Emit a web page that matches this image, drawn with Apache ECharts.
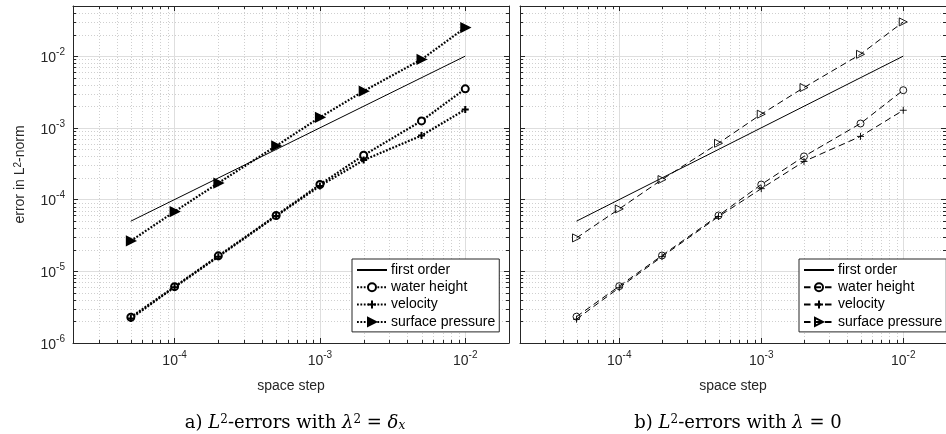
<!DOCTYPE html>
<html><head><meta charset="utf-8">
<script src="https://cdn.jsdelivr.net/npm/echarts@6/dist/echarts.min.js"></script>
<style>html,body{margin:0;padding:0;background:#fff}#c{width:946px;height:434px}</style>
</head><body><div id="c"></div>
<script>
// ---- data ----
const xSteps = [5e-5, 1e-4, 2e-4, 5e-4, 1e-3, 2e-3, 5e-3, 1e-2];
const firstOrderX = [5e-5, 1e-2];
const firstOrderY = [5e-5, 1e-2];
const aWater    = [2.29e-6, 6.1e-6, 1.64e-5, 6.0e-5, 1.62e-4, 4.15e-4, 1.25e-3, 3.5e-3];
const aVelocity = [2.2e-6, 6.0e-6, 1.6e-5, 5.9e-5, 1.55e-4, 3.55e-4, 7.8e-4, 1.8e-3];
const aPressure = [2.65e-5, 6.8e-5, 1.7e-4, 5.6e-4, 1.4e-3, 3.25e-3, 9.0e-3, 2.5e-2];
const bWater    = [2.33e-6, 6.2e-6, 1.66e-5, 6.0e-5, 1.62e-4, 4.0e-4, 1.15e-3, 3.35e-3];
const bVelocity = [2.15e-6, 5.9e-6, 1.6e-5, 5.8e-5, 1.42e-4, 3.4e-4, 7.6e-4, 1.76e-3];
const bPressure = [2.92e-5, 7.4e-5, 1.9e-4, 6.1e-4, 1.55e-3, 3.65e-3, 1.06e-2, 3.0e-2];
const seriesNames = ['first order', 'water height', 'velocity', 'surface pressure'];
const xRange = [2e-5, 2e-2];
const yRange = [1e-6, 5e-2];
const minorMantissas = [2, 3, 4, 5, 6, 7, 8, 9];
const xDecades = [1e-5, 1e-4, 1e-3, 1e-2];
const yDecades = [1e-6, 1e-5, 1e-4, 1e-3, 1e-2];

// ---- helpers ----
const AX = '#262626';
const SANS = 'Liberation Sans';
function minorValues(decades, range) {
  const out = [];
  decades.forEach(d => minorMantissas.forEach(m => {
    const v = m * d;
    if (v > range[0] * 1.0001 && v < range[1] * 0.9999) out.push(v);
  }));
  return out;
}
const xMinor = minorValues(xDecades, xRange);
const yMinor = minorValues(yDecades, yRange);
const zip = (xs, ys) => xs.map((x, i) => [x, ys[i]]);

function sciLabel(v) {
  const e = Math.log10(v), r = Math.round(e);
  if (Math.abs(e - r) > 1e-6) return '';
  return '{b|10}{s|' + r + '}';
}
const tickRich = {
  b: {fontSize: 14, fontFamily: SANS, color: AX, lineHeight: 18, verticalAlign: 'bottom'},
  s: {fontSize: 10, fontFamily: SANS, color: AX, lineHeight: 7, verticalAlign: 'top'}
};

function minorX(params, api) {
  const cs = params.coordSys;
  const x = Math.round(api.coord([api.value(0), 1e-3])[0]) + 0.5;
  return {type: 'group', children: [
    {type: 'line', shape: {x1: x, y1: cs.y, x2: x, y2: cs.y + cs.height}, style: {stroke: '#cfcfcf', lineWidth: 1, lineDash: [1, 2]}},
    {type: 'line', shape: {x1: x, y1: cs.y + cs.height, x2: x, y2: cs.y + cs.height - 3}, style: {stroke: AX, lineWidth: 1}},
    {type: 'line', shape: {x1: x, y1: cs.y, x2: x, y2: cs.y + 3}, style: {stroke: AX, lineWidth: 1}}
  ]};
}
function minorY(params, api) {
  const cs = params.coordSys;
  const y = Math.round(api.coord([1e-3, api.value(1)])[1]) + 0.5;
  return {type: 'group', children: [
    {type: 'line', shape: {x1: cs.x, y1: y, x2: cs.x + cs.width, y2: y}, style: {stroke: '#cfcfcf', lineWidth: 1, lineDash: [1, 2]}},
    {type: 'line', shape: {x1: cs.x, y1: y, x2: cs.x + 3, y2: y}, style: {stroke: AX, lineWidth: 1}},
    {type: 'line', shape: {x1: cs.x + cs.width, y1: y, x2: cs.x + cs.width - 3, y2: y}, style: {stroke: AX, lineWidth: 1}}
  ]};
}

function xAx(grid, pos, main) {
  return {
    gridIndex: grid, type: 'log', logBase: 10, min: xRange[0], max: xRange[1], position: pos,
    axisLine: {show: true, lineStyle: {color: AX, width: 1}},
    axisTick: {show: true, inside: true, length: 5, lineStyle: {color: AX}},
    axisLabel: main ? {show: true, formatter: sciLabel, rich: tickRich, margin: 7, showMinLabel: false, showMaxLabel: false, hideOverlap: false} : {show: false},
    splitLine: main ? {show: true, lineStyle: {color: '#dedede', width: 1}} : {show: false},
    minorTick: {show: false}, minorSplitLine: {show: false},
    name: main ? 'space step' : '', nameLocation: 'middle', nameGap: 36,
    nameTextStyle: {fontSize: 14, fontFamily: SANS, color: AX}
  };
}
function yAx(grid, pos, main, labels) {
  return {
    gridIndex: grid, type: 'log', logBase: 10, min: yRange[0], max: yRange[1], position: pos,
    axisLine: {show: true, lineStyle: {color: AX, width: 1}},
    axisTick: {show: true, inside: true, length: 5, lineStyle: {color: AX}},
    axisLabel: labels ? {show: true, formatter: sciLabel, rich: tickRich, margin: 8, showMinLabel: true, showMaxLabel: false, hideOverlap: false} : {show: false},
    splitLine: main ? {show: true, lineStyle: {color: '#dedede', width: 1}} : {show: false},
    minorTick: {show: false}, minorSplitLine: {show: false},
    name: labels ? 'error in L{s|2}-norm' : '', nameLocation: 'middle', nameGap: 46,
    nameTextStyle: {fontSize: 14, fontFamily: SANS, color: AX,
      rich: {s: {fontSize: 10, fontFamily: SANS, color: AX, lineHeight: 7, verticalAlign: 'top'}}}
  };
}

const dotLine = {color: '#000', width: 2.2, type: [1.8, 1.6]};
const dashLine = {color: '#000', width: 1, type: [6.5, 4]};
const plusPath = 'path://M0,5L10,5M5,0L5,10';

function panelSeries(gi, suffix, W, V, P, left) {
  const ls = left ? dotLine : dashLine;
  const bw = left ? 2 : 0.9;
  return [
    {name: seriesNames[0] + suffix, type: 'line', xAxisIndex: gi * 2, yAxisIndex: gi * 2,
     data: zip(firstOrderX, firstOrderY), symbol: 'none', lineStyle: {color: '#000', width: 1, type: 'solid'},
     itemStyle: {color: '#000'}, z: 3, silent: true, animation: false},
    {name: seriesNames[1] + suffix, type: 'line', xAxisIndex: gi * 2, yAxisIndex: gi * 2,
     data: zip(xSteps, W), symbol: 'circle', symbolSize: left ? 7 : 7,
     itemStyle: {color: left ? '#fff' : 'rgba(0,0,0,0)', borderColor: '#000', borderWidth: bw},
     lineStyle: ls, z: 4, silent: true, animation: false},
    {name: seriesNames[2] + suffix, type: 'line', xAxisIndex: gi * 2, yAxisIndex: gi * 2,
     data: zip(xSteps, V), symbol: plusPath, symbolSize: 7,
     itemStyle: {color: '#000', borderColor: '#000', borderWidth: left ? 2 : 0.9},
     lineStyle: ls, z: 4, silent: true, animation: false},
    {name: seriesNames[3] + suffix, type: 'line', xAxisIndex: gi * 2, yAxisIndex: gi * 2,
     data: zip(xSteps, P), symbol: 'triangle', symbolSize: left ? 8 : 8, symbolRotate: -90,
     itemStyle: {color: left ? '#000' : 'rgba(0,0,0,0)', borderColor: '#000', borderWidth: bw},
     lineStyle: ls, z: 4, silent: true, animation: false},
    {type: 'custom', xAxisIndex: gi * 2, yAxisIndex: gi * 2, data: xMinor.map(v => [v, 1e-3]),
     renderItem: minorX, z: 1, silent: true, animation: false},
    {type: 'custom', xAxisIndex: gi * 2, yAxisIndex: gi * 2, data: yMinor.map(v => [1e-3, v]),
     renderItem: minorY, z: 1, silent: true, animation: false}
  ];
}

function legendFor(suffix, left) {
  return {
    left: left, top: 259, orient: 'vertical', selectedMode: false,
    data: seriesNames.map((n, i) => i === 0 ? {name: n + suffix, itemStyle: {opacity: 0}} : {name: n + suffix}),
    formatter: n => n.replace(' (b)', ''),
    itemWidth: 30, itemHeight: 10, itemGap: 3.3,
    padding: [4, 4, 3, 4],
    backgroundColor: '#fff', borderColor: AX, borderWidth: 1, borderRadius: 0,
    textStyle: {fontSize: 14, fontFamily: SANS, color: '#000', padding: [0, 0, 0, -1]},
    z: 10
  };
}

const serifRich = {
  t: {fontSize: 18, fontFamily: 'DejaVu Serif', color: '#000'},
  i: {fontSize: 18, fontFamily: 'DejaVu Serif', fontStyle: 'italic', color: '#000'},
  sup: {fontSize: 12, fontFamily: 'DejaVu Serif', color: '#000', lineHeight: 8, verticalAlign: 'top'},
  sub: {fontSize: 12, fontFamily: 'DejaVu Serif', fontStyle: 'italic', color: '#000', lineHeight: 8, verticalAlign: 'bottom'}
};

const chart = echarts.init(document.getElementById('c'), null, {renderer: 'canvas'});
chart.setOption({
  animation: false,
  backgroundColor: '#fff',
  grid: [
    {left: 73, top: 6, width: 436, bottom: 91, containLabel: false},
    {left: 520, top: 6, right: -9, bottom: 91, containLabel: false}
  ],
  xAxis: [xAx(0, 'bottom', true), xAx(0, 'top', false), xAx(1, 'bottom', true), xAx(1, 'top', false)],
  yAxis: [yAx(0, 'left', true, true), yAx(0, 'right', false, false), yAx(1, 'left', true, false), yAx(1, 'right', false, false)],
  legend: [legendFor('', 352), legendFor(' (b)', 799)],
  series: [].concat(
    panelSeries(0, '', aWater, aVelocity, aPressure, true),
    panelSeries(1, ' (b)', bWater, bVelocity, bPressure, false)
  ),
  graphic: [
    {type: 'text', x: 295, y: 423, style: {
      text: '{t|a) }{i|L}{sup|2}{t|-errors with }{i|λ}{sup|2}{t| = }{i|δ}{sub|x}',
      rich: serifRich, align: 'center', verticalAlign: 'middle'}},
    {type: 'text', x: 738, y: 423, style: {
      text: '{t|b) }{i|L}{sup|2}{t|-errors with }{i|λ}{t| = 0}',
      rich: serifRich, align: 'center', verticalAlign: 'middle'}}
  ]
});
</script></body></html>
